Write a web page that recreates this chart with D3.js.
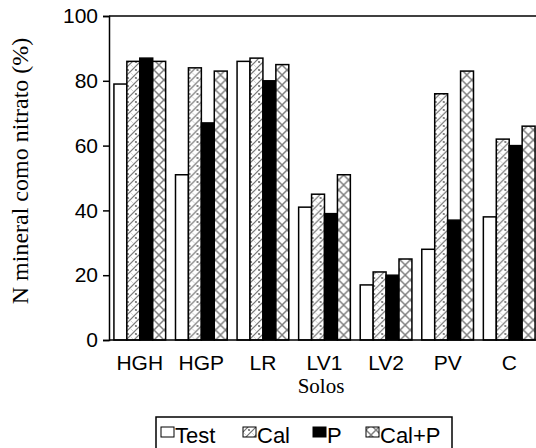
<!DOCTYPE html>
<html>
<head>
<meta charset="utf-8">
<script src="https://cdn.jsdelivr.net/npm/d3@7"></script>
<style>
  body { margin: 0; background: #fff; }
  svg { display: block; }
</style>
</head>
<body>
<div id="chart"></div>
<script>
const solos = ['HGH', 'HGP', 'LR', 'LV1', 'LV2', 'PV', 'C'];
const series = ['Test', 'Cal', 'P', 'Cal+P'];
const test = [79, 51, 86, 41, 17, 28, 38];
const cal = [86, 84, 87, 45, 21, 76, 62];
const p = [87, 67, 80, 39, 20, 37, 60];
const calP = [86, 83, 85, 51, 25, 83, 66];
const yTicks = [0, 20, 40, 60, 80, 100];

const values = [test, cal, p, calP];
const data = solos.map((s, i) => ({
    solo: s,
    vals: series.map((k, j) => ({ key: k, v: values[j][i] }))
}));

const width = 536, height = 448;
const plotLeft = 109, plotRight = 540, plotTop = 16, plotBottom = 340;
const sans = 'Liberation Sans, Arial, sans-serif';
const serif = 'Liberation Serif, Times New Roman, serif';

const svg = d3.select('#chart').append('svg')
    .attr('width', width)
    .attr('height', height);

const defs = svg.append('defs');
// Cal: diagonal lines with dots
const pc = defs.append('pattern')
    .attr('id', 'pCal')
    .attr('patternUnits', 'userSpaceOnUse')
    .attr('width', 8).attr('height', 8);
pc.append('rect').attr('width', 8).attr('height', 8).attr('fill', '#fff');
pc.append('path').attr('d', 'M0,8 L8,0 M-1,1 L1,-1 M7,9 L9,7')
    .attr('stroke', '#707070').attr('stroke-width', 1.2);
pc.append('path').attr('d', 'M0,0 L8,8')
    .attr('stroke', '#c8c8c8').attr('stroke-width', 0.8);
pc.append('circle').attr('cx', 6).attr('cy', 6).attr('r', 0.9).attr('fill', '#555');
// Cal+P: cross hatch
const px = defs.append('pattern')
    .attr('id', 'pCalP')
    .attr('patternUnits', 'userSpaceOnUse')
    .attr('width', 10).attr('height', 10);
px.append('rect').attr('width', 10).attr('height', 10).attr('fill', '#fff');
px.append('path').attr('d', 'M0,0 L10,10 M0,10 L10,0')
    .attr('stroke', '#808080').attr('stroke-width', 1.5);

const fills = { 'Test': '#fff', 'Cal': 'url(#pCal)', 'P': '#000', 'Cal+P': 'url(#pCalP)' };

const x0 = d3.scaleBand().domain(solos).range([plotLeft, plotRight])
    .paddingInner(0.16).paddingOuter(0.08);
const x1 = d3.scaleBand().domain(series).range([0, x0.bandwidth()]);
const y = d3.scaleLinear().domain([0, 100]).range([plotBottom, plotTop]);

// bars
svg.append('g').selectAll('g')
    .data(data)
    .join('g')
    .attr('transform', d => `translate(${x0(d.solo)},0)`)
    .selectAll('rect')
    .data(d => d.vals)
    .join('rect')
    .attr('x', d => x1(d.key))
    .attr('y', d => y(d.v))
    .attr('width', x1.bandwidth())
    .attr('height', d => y(0) - y(d.v))
    .attr('fill', d => fills[d.key])
    .attr('stroke', '#000')
    .attr('stroke-width', 1.5);

// axes
const yAxis = svg.append('g')
    .attr('transform', `translate(${plotLeft},0)`)
    .call(d3.axisLeft(y).tickValues(yTicks).tickSize(6).tickPadding(5));
yAxis.select('.domain').attr('stroke-width', 1.5);
yAxis.selectAll('line').attr('stroke-width', 1.5);
yAxis.selectAll('text')
    .attr('font-family', sans)
    .attr('font-size', 21)
    .attr('fill', '#000');

const xAxis = svg.append('g')
    .attr('transform', `translate(0,${plotBottom})`)
    .call(d3.axisBottom(x0).tickSize(0).tickPadding(15));
xAxis.select('.domain').attr('stroke-width', 1.5).attr('d', `M${plotLeft},0H${width}`);
xAxis.selectAll('text')
    .attr('font-family', sans)
    .attr('font-size', 21)
    .attr('fill', '#000');

// top frame line
svg.append('line')
    .attr('x1', plotLeft).attr('x2', width)
    .attr('y1', plotTop).attr('y2', plotTop)
    .attr('stroke', '#000').attr('stroke-width', 1.5);

// titles
svg.append('text')
    .attr('x', 321).attr('y', 393)
    .attr('text-anchor', 'middle')
    .attr('font-family', serif)
    .attr('font-size', 21)
    .text('Solos');

svg.append('text')
    .attr('transform', 'translate(28,171) rotate(-90)')
    .attr('text-anchor', 'middle')
    .attr('font-family', serif)
    .attr('font-size', 24)
    .text('N mineral como nitrato (%)');

// legend
const legend = svg.append('g');
legend.append('rect')
    .attr('x', 156).attr('y', 417)
    .attr('width', 296).attr('height', 40)
    .attr('fill', 'none').attr('stroke', '#000').attr('stroke-width', 1.5);

const legX = [161, 243, 313, 366];
const items = legend.selectAll('g.item')
    .data(series)
    .join('g')
    .attr('class', 'item')
    .attr('transform', (d, i) => `translate(${legX[i]},0)`);
items.append('rect')
    .attr('x', 0).attr('y', 427)
    .attr('width', 13).attr('height', 10)
    .attr('fill', d => fills[d])
    .attr('stroke', '#000').attr('stroke-width', 1);
items.append('text')
    .attr('x', 14).attr('y', 443)
    .attr('font-family', sans)
    .attr('font-size', 22)
    .text(d => d);
</script>
</body>
</html>
